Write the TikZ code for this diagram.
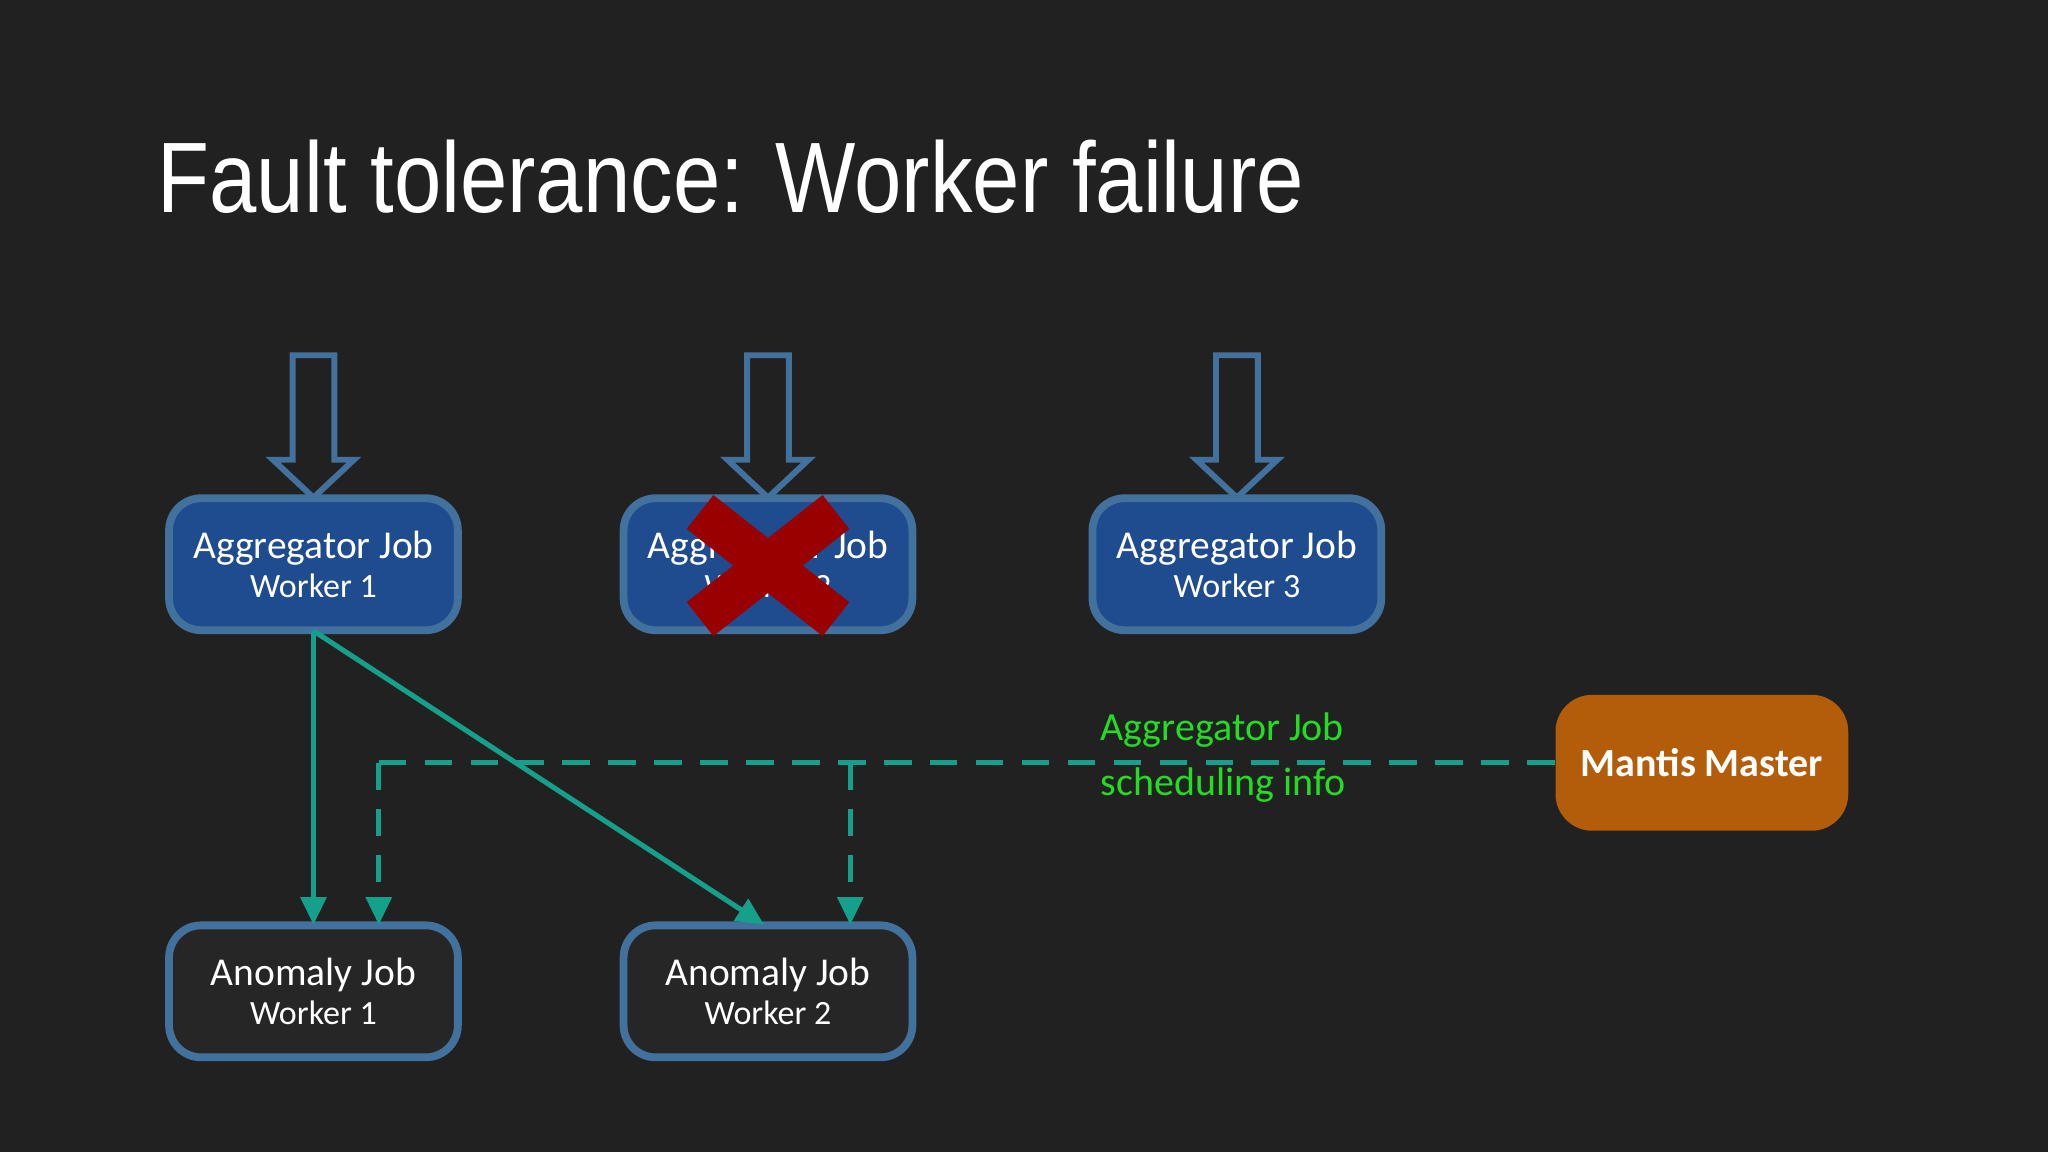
\documentclass[tikz,border=0pt]{standalone}
\usepackage{fontspec}
\setmainfont{Carlito}
\newfontfamily\titlefont{Liberation Sans}
\usetikzlibrary{arrows.meta}
\definecolor{bg}{HTML}{212121}
\definecolor{bluefill}{HTML}{1F4B8F}
\definecolor{blueedge}{HTML}{41719C}
\definecolor{darkfill}{HTML}{262626}
\definecolor{orangefill}{HTML}{B35C0A}
\definecolor{teal}{HTML}{14A08A}
\definecolor{lbl}{HTML}{22DD22}
\definecolor{xred}{HTML}{990000}
\tikzset{
 x=0.01cm,y=-0.01cm,
 job/.style={draw=blueedge,line width=1.7pt,rounded corners=7pt,minimum width=2.21cm,minimum height=1.01cm,align=center,text=white,font=\fontsize{8.6}{10.5}\selectfont,inner sep=0pt},
 agg/.style={job,fill=bluefill},
 anom/.style={job,fill=darkfill},
 flow/.style={teal,line width=1.1pt,-{Triangle[length=6pt,width=5.5pt]}},
 sched/.style={flow,dash pattern=on 6pt off 4pt},
 hollow/.style={draw=blueedge,line width=1.3pt},
}
\newcommand{\wk}[1]{{\fontsize{7.4}{9}\selectfont #1}}
\begin{document}
\begin{tikzpicture}
\fill[bg] (0,0) rectangle (1568,882);
\useasboundingbox (0,0) rectangle (1568,882);
\node[anchor=base west,text=white,font=\titlefont\fontsize{21.8}{26}\selectfont,inner sep=0pt] (title) at (120,163) {\scalebox{0.85}[1]{Fault tolerance: Worker failure}};
\foreach \cx in {240,588,947}{
 \draw[hollow] (\cx-16,272) -- (\cx+16,272) -- (\cx+16,352) -- (\cx+31,352) -- (\cx,381) -- (\cx-31,352) -- (\cx-16,352) -- cycle;
}
\node[agg] (a1) at (240,432) {Aggregator Job\\[-2pt]\wk{Worker 1}};
\node[agg] (a2) at (588,432) {Aggregator Job\\[-2pt]\wk{Worker 2}};
\node[agg] (a3) at (947,432) {Aggregator Job\\[-2pt]\wk{Worker 3}};
\node[anom] (n1) at (240,759) {Anomaly Job\\[-2pt]\wk{Worker 1}};
\node[anom] (n2) at (588,759) {Anomaly Job\\[-2pt]\wk{Worker 2}};
\node[fill=orangefill,rounded corners=8pt,minimum width=2.24cm,minimum height=1.04cm,text=white,font=\bfseries\fontsize{8.7}{11}\selectfont,inner sep=0pt] (mm) at (1303,584) {Mantis Master};
\draw[xred,line width=0.33cm] (536,392) -- (640,474);
\draw[xred,line width=0.33cm] (640,392) -- (536,474);
\coordinate (s) at (240,483);
\draw[flow] (s) -- (240,708);
\draw[flow] (s) -- (585,708);
\coordinate (c1) at (290,584);
\coordinate (c2) at (651,584);
\draw[teal,line width=1.1pt,dash pattern=on 6pt off 4pt] (mm.west) -- (c1);
\draw[sched] (c1) -- (290,708);
\draw[sched] (c2) -- (651,708);
\node[anchor=west,text=lbl,font=\fontsize{8.7}{11}\selectfont,inner sep=0pt] (l1) at (842,559) {Aggregator Job};
\node[anchor=west,text=lbl,font=\fontsize{8.7}{11}\selectfont,inner sep=0pt] (l2) at (842,601) {scheduling info};
\end{tikzpicture}
\end{document}
